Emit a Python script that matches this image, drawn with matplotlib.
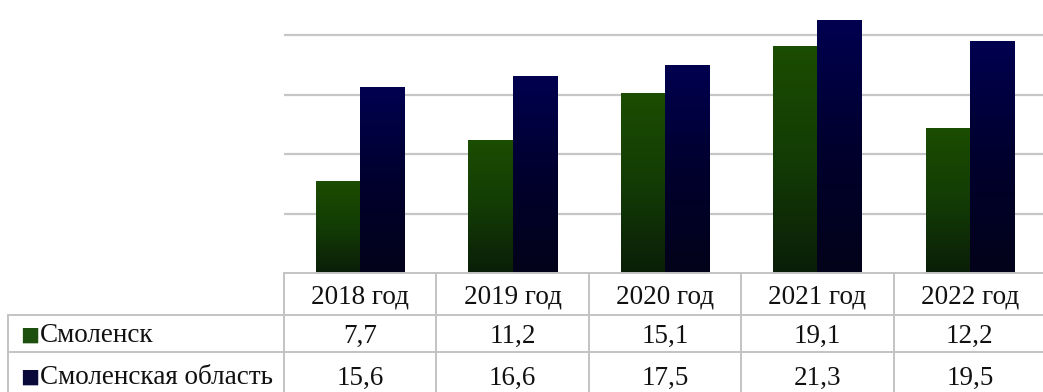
import numpy as np
import matplotlib
matplotlib.use("Agg")
import matplotlib.pyplot as plt
from matplotlib.colors import LinearSegmentedColormap

plt.rcParams['font.family'] = ['Liberation Serif', 'DejaVu Serif']

years = ["2018 год", "2019 год", "2020 год", "2021 год", "2022 год"]
series_names = ["Смоленск", "Смоленская область"]
smolensk = [7.7, 11.2, 15.1, 19.1, 12.2]
region = [15.6, 16.6, 17.5, 21.3, 19.5]
value_labels = [
    ["7,7", "11,2", "15,1", "19,1", "12,2"],
    ["15,6", "16,6", "17,5", "21,3", "19,5"],
]

W, H = 1043, 392
fig = plt.figure(figsize=(W / 100, H / 100), dpi=100)

# pixel layout helpers
def fx(px):
    return px / W

def fy(py):
    return 1 - py / H

plot_left, plot_right = 284, 1046
base_y = 273
ax = fig.add_axes([fx(plot_left), fy(base_y), fx(plot_right - plot_left), base_y / H])
for s in ax.spines.values():
    s.set_visible(False)
ax.set_xticks([])
ax.set_yticks([5, 10, 15, 20])
ax.tick_params(left=False, labelleft=False)
ax.yaxis.grid(True, color="#c6c6c6", linewidth=1.6)
ax.set_axisbelow(True)

green_cmap = LinearSegmentedColormap.from_list("g", ["#0a1e08", "#133c05", "#1b4d01"])
navy_cmap = LinearSegmentedColormap.from_list("n", ["#03031a", "#00002e", "#000050"])

bar_w = 0.29
x = np.arange(len(years))
grad = np.linspace(0, 1, 256).reshape(-1, 1)

def gradient_bars(xs, vals, cmap):
    bars = ax.bar(xs, vals, width=bar_w, color="none", edgecolor="none", zorder=2)
    for b in bars:
        x0, w, h = b.get_x(), b.get_width(), b.get_height()
        im = ax.imshow(grad, cmap=cmap, origin="lower", aspect="auto",
                       extent=(x0, x0 + w, 0, h), zorder=2, interpolation="bilinear")
        im.set_clip_path(b)
    return bars

gradient_bars(x - bar_w / 2, smolensk, green_cmap)
gradient_bars(x + bar_w / 2, region, navy_cmap)
ax.set_xlim(-0.5, 4.5)
ax.set_ylim(0, 22.95)

# data table below the bars
label_left = 8
unit = (plot_right - plot_left) / 5.0
tx0 = -0.5 - (plot_left - label_left) / unit
tab = fig.add_axes([fx(label_left), 0, fx(plot_right - label_left), fy(base_y)])
tab.set_xlim(tx0, 4.5)
tab.set_ylim(H, base_y)
tab.axis("off")

line_kw = dict(color="#c3c3c3", linewidth=1.4, clip_on=False)
row_edges = [base_y, 315, 352, H + 5]
tab.plot([-0.5, 4.5], [row_edges[0], row_edges[0]], **line_kw)
for ry in row_edges[1:3]:
    tab.plot([tx0, 4.5], [ry, ry], **line_kw)
for i in range(6):
    tab.plot([i - 0.5, i - 0.5], [row_edges[0], row_edges[3]], **line_kw)
tab.plot([tx0, tx0], [row_edges[1], row_edges[3]], **line_kw)

fs = 19.5
header_y = 297
for i, yr in enumerate(years):
    tab.text(i, header_y, yr, ha="center", va="center", fontsize=fs, color="#111111")

row_centers = [336, 378]
key_colors = ["#1d4f0e", "#0a0a3a"]
key_x = tx0 + 12 / unit
name_x = tx0 + 32 / unit
for r in range(2):
    tab.text(key_x, row_centers[r] - 1, "■", ha="left", va="center", fontsize=14.5,
             color=key_colors[r], family=["DejaVu Sans"])
    tab.text(name_x, row_centers[r], series_names[r], ha="left", va="center",
             fontsize=fs, color="#111111")
    for i in range(len(years)):
        tab.text(i, row_centers[r], value_labels[r][i], ha="center", va="center",
                 fontsize=fs, color="#111111")

fig.savefig("out.png", dpi=100)
